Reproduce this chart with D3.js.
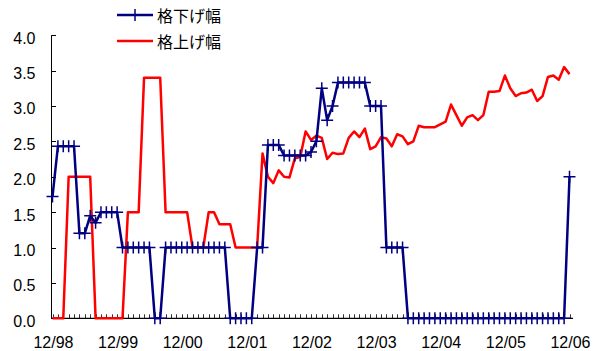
<!DOCTYPE html>
<html>
<head>
<meta charset="utf-8">
<script src="https://cdn.jsdelivr.net/npm/d3@7/dist/d3.min.js"></script>
<style>
  html, body { margin: 0; padding: 0; background: #fff; }
  svg { display: block; }
</style>
</head>
<body>
<svg id="chart" width="602" height="351"></svg>
<script>
// Monthly categories, Dec 1998 through Dec 2006
const categories = [];
for (let y = 1998; y <= 2006; y++) {
  for (let m = 1; m <= 12; m++) {
    if (y === 1998 && m < 12) continue;
    categories.push(String(y) + "-" + String(m).padStart(2, "0"));
  }
}
categories.splice(97);

// 格下げ幅 (downgrade width)
const downgrade = [
  1.72, 2.43, 2.43, 2.43, 2.43, 1.2, 1.2, 1.45, 1.35, 1.5,
  1.5, 1.5, 1.5, 1.0, 1.0, 1.0, 1.0, 1.0, 1.0, 0,
  0, 1.0, 1.0, 1.0, 1.0, 1.0, 1.0, 1.0, 1.0, 1.0,
  1.0, 1.0, 1.0, 0, 0, 0, 0, 0, 1.0, 1.0,
  2.45, 2.45, 2.45, 2.3, 2.3, 2.3, 2.3, 2.3, 2.35, 2.5,
  3.25, 2.8, 3.0, 3.33, 3.33, 3.33, 3.33, 3.33, 3.33, 3.0,
  3.0, 3.0, 1.0, 1.0, 1.0, 1.0, 0, 0, 0, 0,
  0, 0, 0, 0, 0, 0, 0, 0, 0, 0,
  0, 0, 0, 0, 0, 0, 0, 0, 0, 0,
  0, 0, 0, 0, 0, 0, 2.0
];

// 格上げ幅 (upgrade width)
const upgrade = [
  0, 0, 0, 2.0, 2.0, 2.0, 2.0, 2.0, 0, 0,
  0, 0, 0, 0, 1.5, 1.5, 1.5, 3.4, 3.4, 3.4,
  3.4, 1.5, 1.5, 1.5, 1.5, 1.5, 1.0, 1.0, 1.0, 1.5,
  1.5, 1.33, 1.33, 1.33, 1.0, 1.0, 1.0, 1.0, 1.0, 2.33,
  2.0, 1.91, 2.09, 2.0, 1.99, 2.26, 2.28, 2.64, 2.52, 2.58,
  2.55, 2.25, 2.34, 2.32, 2.33, 2.55, 2.64, 2.56, 2.68, 2.39,
  2.43, 2.56, 2.54, 2.43, 2.6, 2.57, 2.46, 2.5, 2.72, 2.7,
  2.7, 2.7, 2.74, 2.78, 3.02, 2.87, 2.72, 2.84, 2.87, 2.8,
  2.87, 3.2, 3.2, 3.21, 3.43, 3.25, 3.14, 3.18, 3.19, 3.23,
  3.07, 3.14, 3.41, 3.43, 3.37, 3.55, 3.45
];

// Year-end tick labels and their categories
const tickCategories = ["1998-12", "1999-12", "2000-12", "2001-12", "2002-12",
                        "2003-12", "2004-12", "2005-12", "2006-12"];
const tickLabels = ["12/98", "12/99", "12/00", "12/01", "12/02",
                    "12/03", "12/04", "12/05", "12/06"];
const yTicks = [0, 0.5, 1.0, 1.5, 2.0, 2.5, 3.0, 3.5, 4.0];

const seriesNames = ["格下げ幅", "格上げ幅"];

const svg = d3.select("#chart");
const numFont = "'Liberation Sans', Arial, sans-serif";
const jpFont = "'Noto Sans CJK JP', sans-serif";

const x = d3.scalePoint().domain(categories).range([52.5, 569.5]);
const y = d3.scaleLinear().domain([0, 4]).range([318.3, 35.2]);

const axisColor = "#000";

// Y axis: line, inward ticks, labels
const yAxis = svg.append("g");
yAxis.append("line")
  .attr("x1", 51.5).attr("x2", 51.5)
  .attr("y1", y(4)).attr("y2", y(0))
  .attr("stroke", axisColor).attr("stroke-width", 1);
yAxis.selectAll(".yt").data(yTicks).join("line")
  .attr("x1", 51.5).attr("x2", 56)
  .attr("y1", d => Math.round(y(d)) + 0.5).attr("y2", d => Math.round(y(d)) + 0.5)
  .attr("stroke", axisColor).attr("stroke-width", 1);
yAxis.selectAll(".yl").data(yTicks).join("text")
  .attr("x", 35.5)
  .attr("y", d => y(d) + 3)
  .attr("text-anchor", "end")
  .attr("dominant-baseline", "central")
  .attr("font-family", numFont)
  .attr("font-size", 16)
  .attr("fill", "#000")
  .text(d => d.toFixed(1));

// X axis: line, month ticks, year labels
const xAxis = svg.append("g");
xAxis.selectAll(".xt").data(categories).join("line")
  .attr("x1", d => Math.round(x(d)) + 0.5).attr("x2", d => Math.round(x(d)) + 0.5)
  .attr("y1", y(0) - 4).attr("y2", y(0))
  .attr("stroke", "#333").attr("stroke-width", 1);
xAxis.append("line")
  .attr("x1", 51).attr("x2", 573)
  .attr("y1", y(0)).attr("y2", y(0))
  .attr("stroke", axisColor).attr("stroke-width", 1.2);
xAxis.selectAll(".xl").data(tickCategories).join("text")
  .attr("x", d => x(d) + 1)
  .attr("y", 342)
  .attr("text-anchor", "middle")
  .attr("dominant-baseline", "central")
  .attr("font-family", numFont)
  .attr("font-size", 16)
  .attr("fill", "#000")
  .text((d, i) => tickLabels[i]);

const line = d3.line()
  .x((d, i) => x(categories[i]))
  .y(d => y(d));

// Upgrade series (red line, no markers)
svg.append("path")
  .datum(upgrade)
  .attr("d", line)
  .attr("fill", "none")
  .attr("stroke", "#ff0000")
  .attr("stroke-width", 2.5)
  .attr("stroke-linejoin", "round");

// Downgrade series (navy line with + markers)
svg.append("path")
  .datum(downgrade)
  .attr("d", line)
  .attr("fill", "none")
  .attr("stroke", "#000080")
  .attr("stroke-width", 2.5)
  .attr("stroke-linejoin", "round");

const ms = 6;
const markers = svg.append("g")
  .attr("stroke", "#000080")
  .attr("stroke-width", 1.5);
markers.selectAll("path").data(downgrade).join("path")
  .attr("d", (d, i) => {
    const cx = x(categories[i]), cy = y(d);
    return `M${cx - ms},${cy}H${cx + ms}M${cx},${cy - ms}V${cy + ms}`;
  })
  .attr("fill", "none");

// Legend
const legend = svg.append("g");
const legendRows = [
  { name: seriesNames[0], color: "#000080", marker: true, cy: 15 },
  { name: seriesNames[1], color: "#ff0000", marker: false, cy: 41 }
];
legendRows.forEach(r => {
  legend.append("line")
    .attr("x1", 117).attr("x2", 153)
    .attr("y1", r.cy).attr("y2", r.cy)
    .attr("stroke", r.color).attr("stroke-width", 2.5);
  if (r.marker) {
    legend.append("path")
      .attr("d", `M${135 - ms},${r.cy}H${135 + ms}M135,${r.cy - ms}V${r.cy + ms}`)
      .attr("stroke", r.color).attr("stroke-width", 1.5);
  }
  legend.append("text")
    .attr("x", 157)
    .attr("y", r.cy)
    .attr("dominant-baseline", "central")
    .attr("font-family", jpFont)
    .attr("font-size", 16)
    .attr("fill", "#000")
    .text(r.name);
});
</script>
</body>
</html>
